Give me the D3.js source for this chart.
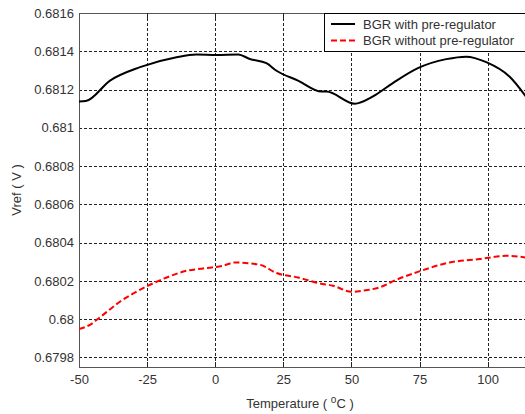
<!DOCTYPE html>
<html>
<head>
<meta charset="utf-8">
<script src="https://cdn.jsdelivr.net/npm/d3@7"></script>
<style>
body { margin: 0; background: #fff; }
svg { font-family: 'Liberation Sans', Arial, Helvetica, sans-serif; }
</style>
</head>
<body>
<div id="chart"></div>
<script>
// data
var tempWith = [-50, -47.5, -38.6, -27.6, -14.2, -6.9, 0.5, 8.4, 12.7, 18.8, 22.5, 30.4, 39, 40.8, 51.2, 57.9, 65.2, 74.4, 84.8, 92.1, 99.5, 108, 115];
var vrefWith = [0.681138, 0.68114, 0.681247, 0.681317, 0.681369, 0.681383, 0.681381, 0.681383, 0.68136, 0.681338, 0.681298, 0.681247, 0.68119, 0.68119, 0.681126, 0.681164, 0.681234, 0.681312, 0.681359, 0.681372, 0.681343, 0.681268, 0.681145];
var tempWithout = [-50, -46, -42.3, -35, -25.2, -17.8, -10.5, -4.4, 2.9, 7.2, 16.4, 22.5, 30.4, 38.4, 43.2, 50, 54.2, 60.3, 66.5, 74.4, 86, 97, 106.8, 115];
var vrefWithout = [0.679949, 0.67997, 0.68001, 0.680091, 0.680171, 0.680218, 0.680253, 0.680265, 0.680279, 0.680296, 0.680284, 0.680241, 0.680218, 0.680187, 0.680175, 0.680143, 0.680149, 0.680166, 0.680206, 0.680247, 0.680296, 0.680314, 0.680331, 0.68032];
var xTicks = [-50, -25, 0, 25, 50, 75, 100];
var xTickLabels = ['-50', '-25', '0', '25', '50', '75', '100'];
var yTicks = [0.6798, 0.68, 0.6802, 0.6804, 0.6806, 0.6808, 0.681, 0.6812, 0.6814, 0.6816];
var yTickLabels = ['0.6798', '0.68', '0.6802', '0.6804', '0.6806', '0.6808', '0.681', '0.6812', '0.6814', '0.6816'];
var seriesNames = ['BGR with pre-regulator', 'BGR without pre-regulator'];

var W = 525, H = 414;
var pLeft = 79, pTop = 13, pRight = 528.5, pBottom = 367;
var fs = '13px', txt = '#333';

var svg = d3.select('#chart').append('svg')
	.attr('width', W)
	.attr('height', H);

var x = d3.scaleLinear().domain([-50, 115]).range([pLeft, pRight]);
var y = d3.scaleLinear().domain([0.67975, 0.6816]).range([pBottom, pTop]);

// grid
svg.append('g').selectAll('line')
	.data(yTicks.slice(0, -1))
	.enter().append('line')
	.attr('x1', pLeft).attr('x2', pRight)
	.attr('y1', function(d) { return Math.round(y(d)) + 0.5; })
	.attr('y2', function(d) { return Math.round(y(d)) + 0.5; })
	.attr('stroke', '#222')
	.attr('stroke-dasharray', '3,2');
svg.append('g').selectAll('line')
	.data(xTicks.slice(1))
	.enter().append('line')
	.attr('y1', pTop).attr('y2', pBottom)
	.attr('x1', function(d) { return Math.round(x(d)) + 0.5; })
	.attr('x2', function(d) { return Math.round(x(d)) + 0.5; })
	.attr('stroke', '#222')
	.attr('stroke-dasharray', '3,2');

// frame
svg.append('rect')
	.attr('x', pLeft + 0.5).attr('y', pTop + 0.5)
	.attr('width', pRight - pLeft).attr('height', pBottom - pTop)
	.attr('fill', 'none')
	.attr('stroke', '#555');

// axes
var x_axis = d3.axisBottom(x).tickValues(xTicks).tickSize(0).tickPadding(8)
	.tickFormat(function(d, i) { return xTickLabels[i]; });
var gx = svg.append('g')
	.attr('transform', 'translate(0,' + pBottom + ')')
	.call(x_axis);
gx.select('.domain').remove();

var y_axis = d3.axisLeft(y).tickValues(yTicks).tickSize(0).tickPadding(5)
	.tickFormat(function(d, i) { return yTickLabels[i]; });
var gy = svg.append('g')
	.attr('transform', 'translate(' + pLeft + ',0)')
	.call(y_axis);
gy.select('.domain').remove();
gx.attr('font-family', null).attr('font-size', null);
gy.attr('font-family', null).attr('font-size', null);
svg.selectAll('.tick text').style('font-size', fs).attr('fill', txt);

// inner tick marks top & bottom
xTicks.slice(1).forEach(function(t) {
	var px = Math.round(x(t)) + 0.5;
	svg.append('line').attr('x1', px).attr('x2', px).attr('y1', pBottom).attr('y2', pBottom - 5).attr('stroke', '#222');
	svg.append('line').attr('x1', px).attr('x2', px).attr('y1', pTop).attr('y2', pTop + 5).attr('stroke', '#222');
});

// lines
var line = d3.line()
	.curve(d3.curveMonotoneX)
	.x(function(d) { return x(d[0]); })
	.y(function(d) { return y(d[1]); });

svg.append('defs').append('clipPath').attr('id', 'clip')
	.append('rect').attr('x', pLeft).attr('y', pTop).attr('width', pRight - pLeft).attr('height', pBottom - pTop);

svg.append('path')
	.datum(d3.zip(tempWith, vrefWith))
	.attr('d', line)
	.attr('clip-path', 'url(#clip)')
	.attr('fill', 'none')
	.attr('stroke', '#000')
	.attr('stroke-width', 2);

svg.append('path')
	.datum(d3.zip(tempWithout, vrefWithout))
	.attr('d', line)
	.attr('clip-path', 'url(#clip)')
	.attr('fill', 'none')
	.attr('stroke', '#ff0000')
	.attr('stroke-width', 2)
	.attr('stroke-dasharray', '6,3');

// legend
var lg = svg.append('g');
lg.append('rect')
	.attr('x', 324.5).attr('y', pTop + 0.5)
	.attr('width', 220).attr('height', 38)
	.attr('fill', '#fff')
	.attr('stroke', '#000');
seriesNames.forEach(function(name, i) {
	var ly = 24 + i * 16.5;
	lg.append('line')
		.attr('x1', 331).attr('x2', 355)
		.attr('y1', ly).attr('y2', ly)
		.attr('stroke', i === 0 ? '#000' : '#ff0000')
		.attr('stroke-width', 2)
		.attr('stroke-dasharray', i === 0 ? null : '6,3');
	lg.append('text')
		.attr('x', 363).attr('y', ly + 4.5)
		.style('font-size', fs)
		.attr('fill', txt)
		.text(name);
});

// axis labels
svg.append('text')
	.attr('transform', 'translate(21,' + ((pTop + pBottom) / 2) + ') rotate(-90)')
	.style('text-anchor', 'middle')
	.style('font-size', fs)
	.attr('fill', txt)
	.text('Vref ( V )');

var xl = svg.append('text')
	.attr('x', 300).attr('y', 408)
	.style('text-anchor', 'middle')
	.style('font-size', fs)
	.attr('fill', txt);
xl.append('tspan').text('Temperature ( ');
xl.append('tspan').attr('dy', -5).style('font-size', '10px').text('o');
xl.append('tspan').attr('dy', 5).text('C )');
</script>
</body>
</html>
